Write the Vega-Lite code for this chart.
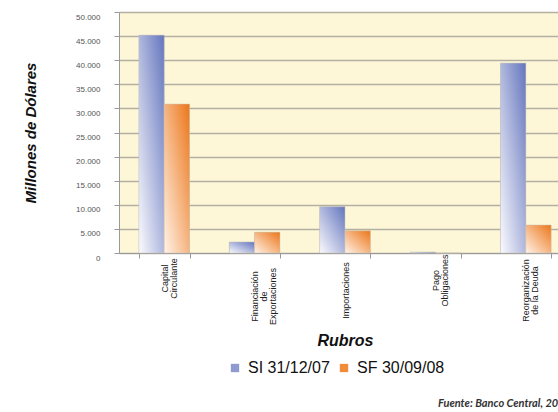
{
  "$schema": "https://vega.github.io/schema/vega-lite/v6.json",
  "width": 452,
  "height": 241,
  "autosize": {"type": "none"},
  "padding": {"left": 119, "top": 12, "right": 0, "bottom": 159},
  "background": "white",
  "title": {
    "text": "Fuente: Banco Central, 2008",
    "orient": "bottom",
    "anchor": "end",
    "offset": 22,
    "font": "Lato",
    "fontSize": 11,
    "fontStyle": "italic",
    "fontWeight": "bold",
    "color": "#333333"
  },
  "config": {
    "view": {"fill": "#fdf7d8", "stroke": null},
    "font": "Liberation Sans"
  },
  "data": {
    "values": [
      {"rubro": "Capital Circulante", "serie": "SI 31/12/07", "valor": 45200},
      {"rubro": "Capital Circulante", "serie": "SF 30/09/08", "valor": 30900},
      {"rubro": "Financiación de Exportaciones", "serie": "SI 31/12/07", "valor": 2300},
      {"rubro": "Financiación de Exportaciones", "serie": "SF 30/09/08", "valor": 4300},
      {"rubro": "Importaciones", "serie": "SI 31/12/07", "valor": 9600},
      {"rubro": "Importaciones", "serie": "SF 30/09/08", "valor": 4600},
      {"rubro": "Pago Obligaciones", "serie": "SI 31/12/07", "valor": 200},
      {"rubro": "Pago Obligaciones", "serie": "SF 30/09/08", "valor": 0},
      {"rubro": "Reorganización de la Deuda", "serie": "SI 31/12/07", "valor": 39400},
      {"rubro": "Reorganización de la Deuda", "serie": "SF 30/09/08", "valor": 5800}
    ]
  },
  "encoding": {
    "x": {
      "field": "rubro",
      "type": "nominal",
      "sort": null,
      "scale": {"paddingInner": 0.44, "paddingOuter": 0.22},
      "axis": {
        "title": "Rubros",
        "titleFont": "Liberation Sans",
        "titleFontSize": 16,
        "titleFontStyle": "italic",
        "titleFontWeight": "bold",
        "titleColor": "#111111",
        "titlePadding": 8,
        "labelAngle": -90,
        "labelAlign": "center",
        "labelBaseline": "middle",
        "labelFontSize": 9,
        "labelLineHeight": 9,
        "labelColor": "#222222",
        "labelPadding": {
          "condition": [
            {"test": "datum.value === 'Capital Circulante'", "value": 20},
            {"test": "datum.value === 'Pago Obligaciones'", "value": 22},
            {"test": "datum.value === 'Financiación de Exportaciones'", "value": 38}
          ],
          "value": 32
        },
        "labelExpr": "datum.label === 'Capital Circulante' ? ['Capital', 'Circulante'] : datum.label === 'Financiación de Exportaciones' ? ['Financiación', 'de', 'Exportaciones'] : datum.label === 'Pago Obligaciones' ? ['Pago', 'Obligaciones'] : datum.label === 'Reorganización de la Deuda' ? ['Reorganización', 'de la Deuda'] : datum.label",
        "tickBand": "extent",
        "tickSize": 5,
        "tickColor": "#999999",
        "domainColor": "#999999",
        "labelFlush": false
      }
    },
    "xOffset": {"field": "serie", "type": "nominal", "sort": ["SI 31/12/07", "SF 30/09/08"], "scale": {"paddingInner": 0, "paddingOuter": 0}},
    "y": {
      "field": "valor",
      "type": "quantitative",
      "scale": {"domain": [0, 50000], "nice": false},
      "axis": {
        "title": "Millones de Dólares",
        "titleFont": "Liberation Sans",
        "titleFontSize": 15,
        "titleFontStyle": "italic",
        "titleFontWeight": "bold",
        "titleColor": "#111111",
        "titlePadding": 37,
        "values": [0, 5000, 10000, 15000, 20000, 25000, 30000, 35000, 40000, 45000, 50000],
        "labelExpr": "replace(format(datum.value, ','), ',', '.')",
        "labelFontSize": 8,
        "labelColor": "#555555",
        "labelPadding": 14,
        "labelOffset": 5,
        "tickSize": 5,
        "tickColor": "#999999",
        "domainColor": "#999999",
        "grid": true,
        "gridColor": "#b3b0a2",
        "gridWidth": 1.3
      }
    }
  },
  "layer": [
    {
      "mark": {"type": "bar"},
      "encoding": {
        "fill": {
          "field": "serie",
          "type": "nominal",
          "sort": ["SI 31/12/07", "SF 30/09/08"],
          "scale": {"domain": ["SI 31/12/07", "SF 30/09/08"], "range": ["#8e9ad0", "#f08c3a"]},
          "legend": {
            "title": null,
            "orient": "none",
            "direction": "horizontal",
            "legendX": 108,
            "legendY": 348,
            "symbolType": "square",
            "symbolSize": 70,
            "symbolStrokeWidth": 0,
            "labelFontSize": 16,
            "labelFont": "Liberation Sans",
            "labelColor": "#111111",
            "labelOffset": 5,
            "columnPadding": 6
          }
        }
      }
    },
    {
      "mark": {"type": "bar", "stroke": "#c8c4b4", "strokeWidth": 0.5},
      "encoding": {
        "fill": {
          "condition": {
            "test": "datum.serie === 'SI 31/12/07'",
            "value": {"gradient": "linear", "x1": 0, "y1": 1, "x2": 1, "y2": 0, "stops": [{"offset": 0, "color": "#fbfbfe"}, {"offset": 1, "color": "#6475bd"}]}
          },
          "value": {"gradient": "linear", "x1": 0, "y1": 1, "x2": 1, "y2": 0, "stops": [{"offset": 0, "color": "#fff3e8"}, {"offset": 1, "color": "#ec761a"}]}
        }
      }
    }
  ]
}
